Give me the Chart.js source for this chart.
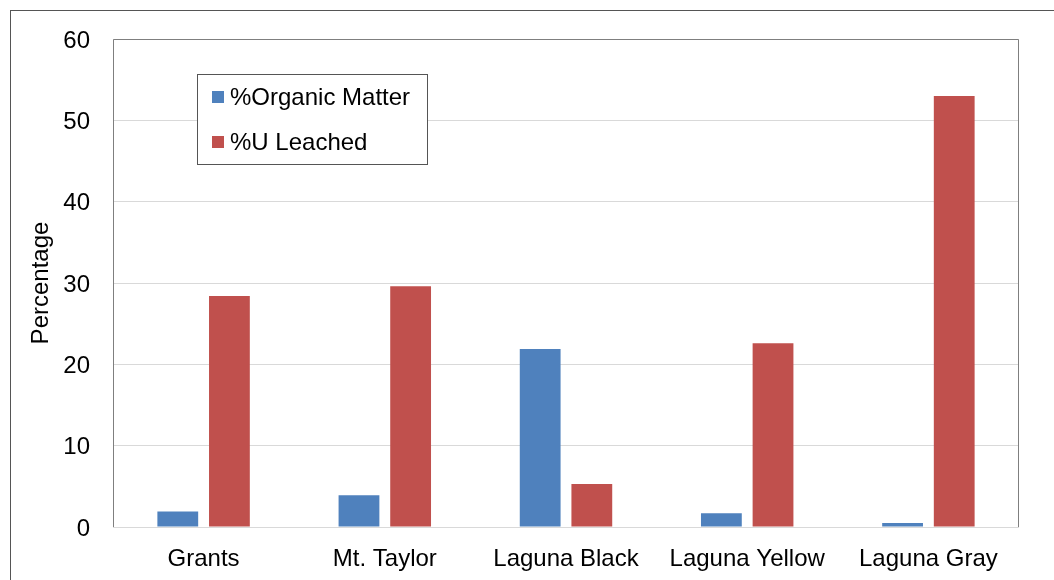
<!DOCTYPE html>
<html>
<head>
<meta charset="utf-8">
<script src="https://cdn.jsdelivr.net/npm/chart.js@4/dist/chart.umd.min.js"></script>
<style>
  html, body { margin: 0; padding: 0; background: #fff; }
  #wrap { position: relative; width: 1054px; height: 580px; }
</style>
</head>
<body>
<div id="wrap"><canvas id="chartSuelos" width="1054" height="580"></canvas></div>
<script>
const categorias = ['Grants', 'Mt. Taylor', 'Laguna Black', 'Laguna Yellow', 'Laguna Gray'];
const materiaOrganica = [1.9, 3.9, 21.9, 1.7, 0.5];
const uLixiviado = [28.4, 29.6, 5.3, 22.6, 53.0];
const ticksY = [0, 10, 20, 30, 40, 50, 60];

const fuente = "'Liberation Sans', Arial, sans-serif";

// marco exterior + borde del area de trazado
const marcoPlugin = {
    id: 'marco',
    beforeDraw(chart) {
        const ctx = chart.ctx;
        ctx.save();
        ctx.strokeStyle = '#555';
        ctx.lineWidth = 1;
        ctx.strokeRect(10.5, 10.5, 1200, 700);
        ctx.restore();
    },
    afterDatasetsDraw(chart) {
        const a = chart.chartArea;
        const ctx = chart.ctx;
        ctx.save();
        ctx.strokeStyle = '#7f7f7f';
        ctx.lineWidth = 1;
        ctx.beginPath();
        ctx.moveTo(Math.round(a.left) + 0.5, Math.round(a.bottom));
        ctx.lineTo(Math.round(a.left) + 0.5, Math.round(a.top) + 0.5);
        ctx.lineTo(Math.round(a.right) - 0.5, Math.round(a.top) + 0.5);
        ctx.lineTo(Math.round(a.right) - 0.5, Math.round(a.bottom));
        ctx.stroke();
        ctx.restore();
    }
};

// leyenda dentro del grafico con recuadro
const leyendaPlugin = {
    id: 'leyendaCaja',
    afterDraw(chart) {
        const ctx = chart.ctx;
        ctx.save();
        ctx.fillStyle = '#fff';
        ctx.fillRect(197, 74, 230, 90);
        ctx.strokeStyle = '#555';
        ctx.lineWidth = 1;
        ctx.strokeRect(197.5, 74.5, 230, 90);
        ctx.font = '24px ' + fuente;
        ctx.textBaseline = 'middle';
        chart.data.datasets.forEach((ds, i) => {
            const y = 97 + i * 45;
            ctx.fillStyle = ds.backgroundColor;
            ctx.fillRect(212, y - 6, 12, 12);
            ctx.fillStyle = '#000';
            ctx.fillText(ds.label, 230, y + 1);
        });
        ctx.restore();
    }
};

new Chart(document.getElementById('chartSuelos'), {
    type: 'bar',
    data: {
        labels: categorias,
        datasets: [
            { label: '%Organic Matter', data: materiaOrganica, backgroundColor: '#4F81BD' },
            { label: '%U Leached', data: uLixiviado, backgroundColor: '#C0504D' }
        ]
    },
    options: {
        responsive: false,
        animation: false,
        events: [],
        categoryPercentage: 0.57,
        barPercentage: 0.79,
        layout: { padding: { left: 0, top: 39, right: 35, bottom: 0 } },
        plugins: {
            legend: { display: false },
            tooltip: { enabled: false }
        },
        scales: {
            x: {
                grid: { display: false, drawTicks: false },
                border: { display: false },
                ticks: { color: '#000', font: { family: fuente, size: 24 }, padding: 18, maxRotation: 0 },
                afterFit(scale) { scale.height = 53; }
            },
            y: {
                min: 0,
                max: 60,
                afterBuildTicks(scale) { scale.ticks = ticksY.map(v => ({ value: v })); },
                grid: { color: '#d9d9d9', drawTicks: false },
                border: { display: false },
                ticks: { color: '#000', font: { family: fuente, size: 24 }, padding: 23, labelOffset: 2 },
                title: {
                    display: true,
                    text: 'Percentage',
                    color: '#000',
                    font: { family: fuente, size: 24 },
                    padding: { top: 27, bottom: 0 }
                },
                afterFit(scale) { scale.width = 113; }
            }
        }
    },
    plugins: [marcoPlugin, leyendaPlugin]
});
</script>
</body>
</html>
